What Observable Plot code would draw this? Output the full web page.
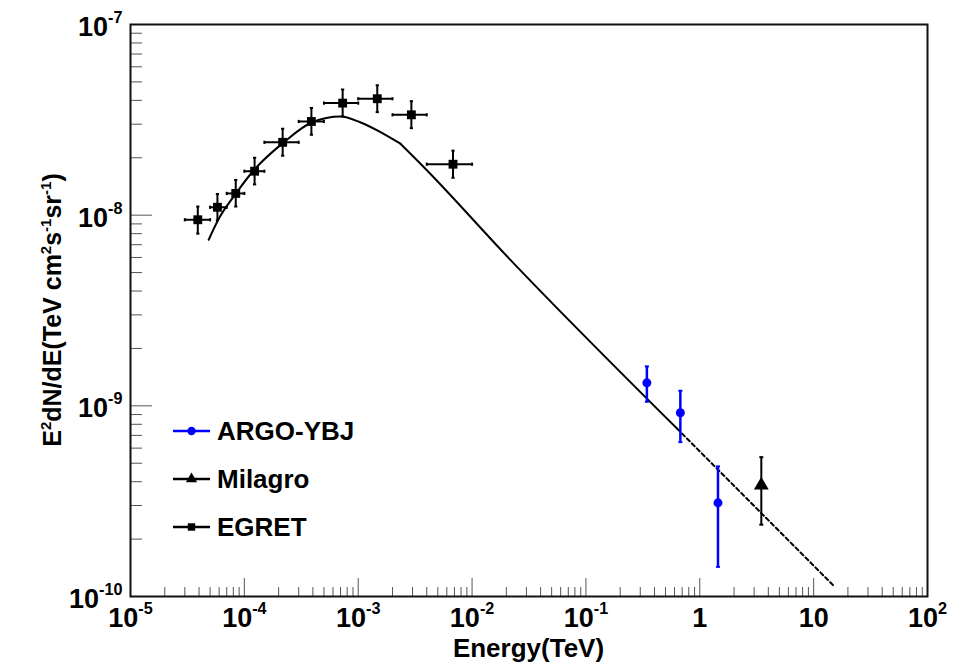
<!DOCTYPE html>
<html>
<head>
<meta charset="utf-8">
<script src="https://cdn.jsdelivr.net/npm/d3@7"></script>
<script src="https://cdn.jsdelivr.net/npm/@observablehq/plot@0.6"></script>
<style>
  html, body { margin: 0; padding: 0; background: #fff; }
  #chart svg { display: block; }
</style>
</head>
<body>
<div id="chart"></div>
<script>
// ---------- data ----------
const egretE    = [3.9e-5, 5.8e-5, 8.4e-5, 1.23e-4, 2.17e-4, 3.88e-4, 7.3e-4, 1.47e-3, 2.93e-3, 6.8e-3];
const egretELo  = [3e-5, 5e-5, 7e-5, 1e-4, 1.5e-4, 3e-4, 5e-4, 1e-3, 2e-3, 4e-3];
const egretEHi  = [5e-5, 7e-5, 1e-4, 1.5e-4, 3e-4, 5e-4, 1e-3, 2e-3, 4e-3, 1e-2];
const egretFlux = [9.46e-9, 1.10e-8, 1.30e-8, 1.70e-8, 2.41e-8, 3.10e-8, 3.87e-8, 4.08e-8, 3.36e-8, 1.85e-8];
const egretLo   = [8.0e-9, 9.4e-9, 1.11e-8, 1.45e-8, 2.05e-8, 2.64e-8, 3.3e-8, 3.47e-8, 2.86e-8, 1.57e-8];
const egretHi   = [1.11e-8, 1.29e-8, 1.53e-8, 2.0e-8, 2.84e-8, 3.65e-8, 4.56e-8, 4.8e-8, 3.96e-8, 2.18e-8];

const argoE    = [0.343, 0.675, 1.445];
const argoFlux = [1.32e-9, 9.2e-10, 3.1e-10];
const argoLo   = [1.05e-9, 6.45e-10, 1.43e-10];
const argoHi   = [1.61e-9, 1.20e-9, 4.81e-10];

const milagroE    = [3.47];
const milagroFlux = [3.83e-10];
const milagroLo   = [2.38e-10];
const milagroHi   = [5.38e-10];

// model: smooth rise and peak, then near power-law fall (solid), then extrapolation (dashed)
const modelE    = [4.86e-5, 5.96e-5, 8.36e-5, 1.21e-4, 2.22e-4, 3.94e-4, 6.98e-4, 1.04e-3, 1.67e-3, 2.35e-3];
const modelFlux = [7.43e-9, 9.58e-9, 1.29e-8, 1.72e-8, 2.41e-8, 3.07e-8, 3.29e-8, 3.07e-8, 2.67e-8, 2.37e-8];
const tailE     = [2.35e-3, 3.76e-3, 2.17e-2, 0.631];
const tailFlux  = [2.37e-8, 1.79e-8, 5.83e-9, 7.6e-10];
const extE      = [0.631, 14.96];
const extFlux   = [7.6e-10, 1.14e-10];

const xMajor = [1e-5, 1e-4, 1e-3, 1e-2, 1e-1, 1, 10, 100];
const xLabels = ["10^-5", "10^-4", "10^-3", "10^-2", "10^-1", "1", "10", "10^2"];
const yMajor = [1e-10, 1e-9, 1e-8, 1e-7];
const yLabels = ["10^-10", "10^-9", "10^-8", "10^-7"];
const minorMult = [2, 3, 4, 5, 6, 7, 8, 9];

const seriesNames = ["ARGO-YBJ", "Milagro", "EGRET"];
const seriesColors = ["#0000ff", "#000000", "#000000"];
const seriesSymbols = ["circle", "triangle", "square"];

// ---------- build tables ----------
const egret = egretE.map((e, i) => ({E: e, elo: egretELo[i], ehi: egretEHi[i], f: egretFlux[i], lo: egretLo[i], hi: egretHi[i]}));
const argo = argoE.map((e, i) => ({E: e, f: argoFlux[i], lo: argoLo[i], hi: argoHi[i]}));
const milagro = milagroE.map((e, i) => ({E: e, f: milagroFlux[i], lo: milagroLo[i], hi: milagroHi[i]}));
const model = modelE.map((e, i) => ({E: e, f: modelFlux[i]}));
const tail = tailE.map((e, i) => ({E: e, f: tailFlux[i]}));
const ext = extE.map((e, i) => ({E: e, f: extFlux[i]}));

const xMinor = xMajor.slice(0, -1).flatMap(d => minorMult.map(m => d * m));
const yMinor = yMajor.slice(0, -1).flatMap(d => minorMult.map(m => d * m));

// cap symbols
const hcap = {draw(ctx, size) { const r = Math.sqrt(size / Math.PI); ctx.moveTo(-r, 0); ctx.lineTo(r, 0); }};
const vcap = {draw(ctx, size) { const r = Math.sqrt(size / Math.PI); ctx.moveTo(0, -r); ctx.lineTo(0, r); }};

const FONT = "'Liberation Sans', Arial, Helvetica, sans-serif";
const TICKFONT = "'Liberation Sans Narrow', 'Arial Narrow', 'Liberation Sans', Arial, sans-serif";
const xLab = new Map(xMajor.map((v, i) => [v, xLabels[i]]));
const yLab = new Map(yMajor.map((v, i) => [v, yLabels[i]]));

const chart = Plot.plot({
  width: 958,
  height: 663,
  marginLeft: 130,
  marginRight: 31,
  marginTop: 24,
  marginBottom: 67,
  x: {type: "log", domain: [1e-5, 1e2]},
  y: {type: "log", domain: [1e-10, 1e-7]},
  style: {fontFamily: FONT, fontWeight: "bold", background: "#fff", color: "#000"},
  marks: [
    // ticks (inward)
    Plot.axisX({ticks: xMinor, tickSize: -9, fill: "none", label: null, stroke: "#555"}),
    Plot.axisX({ticks: xMajor, tickSize: -18, fill: "none", label: null, stroke: "#555"}),
    Plot.axisY({ticks: yMinor, tickSize: -12, fill: "none", label: null, stroke: "#555"}),
    Plot.axisY({ticks: yMajor, tickSize: -22, fill: "none", label: null, stroke: "#555"}),
    // tick labels
    Plot.axisX({ticks: xMajor, tickSize: 0, tickPadding: 11, label: null, fontSize: 27, fontFamily: TICKFONT, tickFormat: d => xLab.get(d)}),
    Plot.axisY({ticks: yMajor, tickSize: 0, tickPadding: 8, label: null, fontSize: 27, fontFamily: TICKFONT, dy: 3, tickFormat: d => yLab.get(d)}),
    Plot.frame({stroke: "#111", strokeWidth: 2}),

    // model curve
    Plot.line(model, {x: "E", y: "f", stroke: "#000", strokeWidth: 2, curve: "monotone-x"}),
    Plot.line(tail, {x: "E", y: "f", stroke: "#000", strokeWidth: 2, curve: "monotone-x"}),
    Plot.line(ext, {x: "E", y: "f", stroke: "#000", strokeWidth: 2, strokeDasharray: "4,3"}),

    // EGRET
    Plot.ruleY(egret, {y: "f", x1: "elo", x2: "ehi", stroke: "#000", strokeWidth: 2}),
    Plot.ruleX(egret, {x: "E", y1: "lo", y2: "hi", stroke: "#000", strokeWidth: 2}),
    Plot.dot(egret, {x: "E", y: "lo", symbol: hcap, r: 1.6, stroke: "#000", strokeWidth: 2}),
    Plot.dot(egret, {x: "E", y: "hi", symbol: hcap, r: 1.6, stroke: "#000", strokeWidth: 2}),
    Plot.dot(egret, {x: "elo", y: "f", symbol: vcap, r: 1.6, stroke: "#000", strokeWidth: 2}),
    Plot.dot(egret, {x: "ehi", y: "f", symbol: vcap, r: 1.6, stroke: "#000", strokeWidth: 2}),
    Plot.dot(egret, {x: "E", y: "f", symbol: "square", r: 5, fill: "#000", stroke: null}),

    // ARGO-YBJ
    Plot.ruleX(argo, {x: "E", y1: "lo", y2: "hi", stroke: "#0000ff", strokeWidth: 2.5}),
    Plot.dot(argo, {x: "E", y: "lo", symbol: hcap, r: 2, stroke: "#0000ff", strokeWidth: 2}),
    Plot.dot(argo, {x: "E", y: "hi", symbol: hcap, r: 2, stroke: "#0000ff", strokeWidth: 2}),
    Plot.dot(argo, {x: "E", y: "f", r: 4.5, fill: "#0000ff", stroke: null}),

    // Milagro
    Plot.ruleX(milagro, {x: "E", y1: "lo", y2: "hi", stroke: "#000", strokeWidth: 2}),
    Plot.dot(milagro, {x: "E", y: "lo", symbol: hcap, r: 2, stroke: "#000", strokeWidth: 2}),
    Plot.dot(milagro, {x: "E", y: "hi", symbol: hcap, r: 2, stroke: "#000", strokeWidth: 2}),
    Plot.dot(milagro, {x: "E", y: "f", symbol: "triangle", r: 5.5, fill: "#000", stroke: null})
  ]
});

document.getElementById("chart").appendChild(chart);

// ---------- post-process: superscripts in tick labels ----------
const svg = d3.select(chart);
svg.selectAll("text").each(function() {
  const t = d3.select(this);
  const s = t.text();
  const i = s.indexOf("^");
  if (i < 0) return;
  t.text(null);
  t.append("tspan").text(s.slice(0, i));
  t.append("tspan").attr("font-size", "0.6em").attr("baseline-shift", "13px").text(s.slice(i + 1));
});

// rich text helper
function rich(sel, parts) {
  parts.forEach(p => {
    const ts = sel.append("tspan").text(p[0]);
    if (p[1]) ts.attr("font-size", "0.6em").attr("baseline-shift", "10px");
  });
}

// axis titles
const xt = svg.append("text")
  .attr("x", 130 + (958 - 130 - 31) / 2).attr("y", 657)
  .attr("text-anchor", "middle").attr("font-size", 26).attr("font-weight", "bold")
  .attr("font-family", FONT).attr("fill", "#000");
xt.text("Energy(TeV)");

const yt = svg.append("text")
  .attr("transform", `translate(61,${24 + (663 - 24 - 67) / 2}) rotate(-90)`)
  .attr("text-anchor", "middle").attr("font-size", 25).attr("font-weight", "bold")
  .attr("font-family", FONT).attr("fill", "#000");
rich(yt, [["E"], ["2", true], ["dN/dE(TeV cm"], ["2", true], ["s"], ["-1", true], ["sr"], ["-1", true], [")"]]);

// legend
const legY = [431, 479, 527];
const leg = svg.append("g").attr("font-family", FONT).attr("font-weight", "bold").attr("font-size", 26).attr("text-anchor", "start");
seriesNames.forEach((name, i) => {
  const g = leg.append("g").attr("transform", `translate(0,${legY[i]})`);
  g.append("line").attr("x1", 173).attr("x2", 210).attr("y1", 0).attr("y2", 0)
    .attr("stroke", seriesColors[i]).attr("stroke-width", 2.5);
  g.append("path").attr("transform", "translate(191.5,0)")
    .attr("d", d3.symbol(seriesSymbols[i] === "circle" ? d3.symbolCircle : seriesSymbols[i] === "triangle" ? d3.symbolTriangle : d3.symbolSquare, 55)())
    .attr("fill", seriesColors[i]);
  g.append("text").attr("x", 217).attr("y", 0).attr("dy", "0.36em").attr("text-anchor", "start").attr("fill", "#000").text(name);
});
</script>
</body>
</html>
